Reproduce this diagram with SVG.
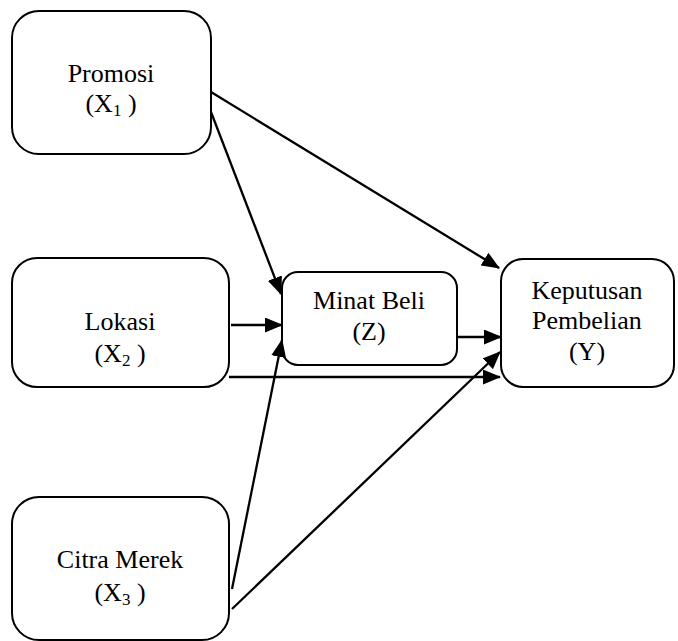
<svg xmlns="http://www.w3.org/2000/svg" width="678" height="641" viewBox="0 0 678 641">
<defs>
<marker id="ah" markerUnits="userSpaceOnUse" markerWidth="18" markerHeight="15" refX="17" refY="7.5" orient="auto">
<path d="M0,0 L18,7.5 L0,15 z" fill="#000"/>
</marker>
<style>
.box{fill:#fff;stroke:#000;stroke-width:2}
.t{font-family:"Liberation Serif","Times New Roman",serif;font-size:26px;fill:#000;text-anchor:middle}
.sub{font-size:17px}
.c{stroke:#000;stroke-width:2.3;fill:none;marker-end:url(#ah)}
</style>
</defs>
<rect width="678" height="641" fill="#fff"/>
<g id="promosi">
<rect class="box" x="12" y="11" width="199" height="143" rx="27"/>
<text class="t" x="111" y="82">Promosi</text>
<text class="t" x="111" y="112">(X<tspan class="sub" dy="4">1</tspan><tspan dy="-4"> )</tspan></text>
</g>
<g id="lokasi">
<rect class="box" x="12" y="258" width="217" height="129" rx="25"/>
<text class="t" x="120" y="330">Lokasi</text>
<text class="t" x="120" y="362">(X<tspan class="sub" dy="4">2</tspan><tspan dy="-4"> )</tspan></text>
</g>
<g id="citra">
<rect class="box" x="12" y="497" width="217" height="143" rx="27"/>
<text class="t" x="120" y="568">Citra Merek</text>
<text class="t" x="120" y="601">(X<tspan class="sub" dy="4">3</tspan><tspan dy="-4"> )</tspan></text>
</g>
<g id="minat">
<rect class="box" x="282" y="272" width="175" height="93" rx="16"/>
<text class="t" x="369" y="309">Minat Beli</text>
<text class="t" x="369" y="340">(Z)</text>
</g>
<g id="keputusan">
<rect class="box" x="501" y="259" width="173" height="128" rx="22"/>
<text class="t" x="587" y="299">Keputusan</text>
<text class="t" x="587" y="329">Pembelian</text>
<text class="t" x="587" y="360">(Y)</text>
</g>
<g id="connectors">
<line class="c" x1="211" y1="92" x2="499" y2="268"/>
<line class="c" x1="211" y1="112" x2="281" y2="294"/>
<line class="c" x1="231" y1="325" x2="282" y2="325"/>
<line class="c" x1="229" y1="377" x2="500" y2="377"/>
<line class="c" x1="232" y1="589" x2="282" y2="340"/>
<line class="c" x1="232" y1="609" x2="500" y2="352"/>
<line class="c" x1="457" y1="337" x2="501" y2="337"/>
</g>
</svg>
